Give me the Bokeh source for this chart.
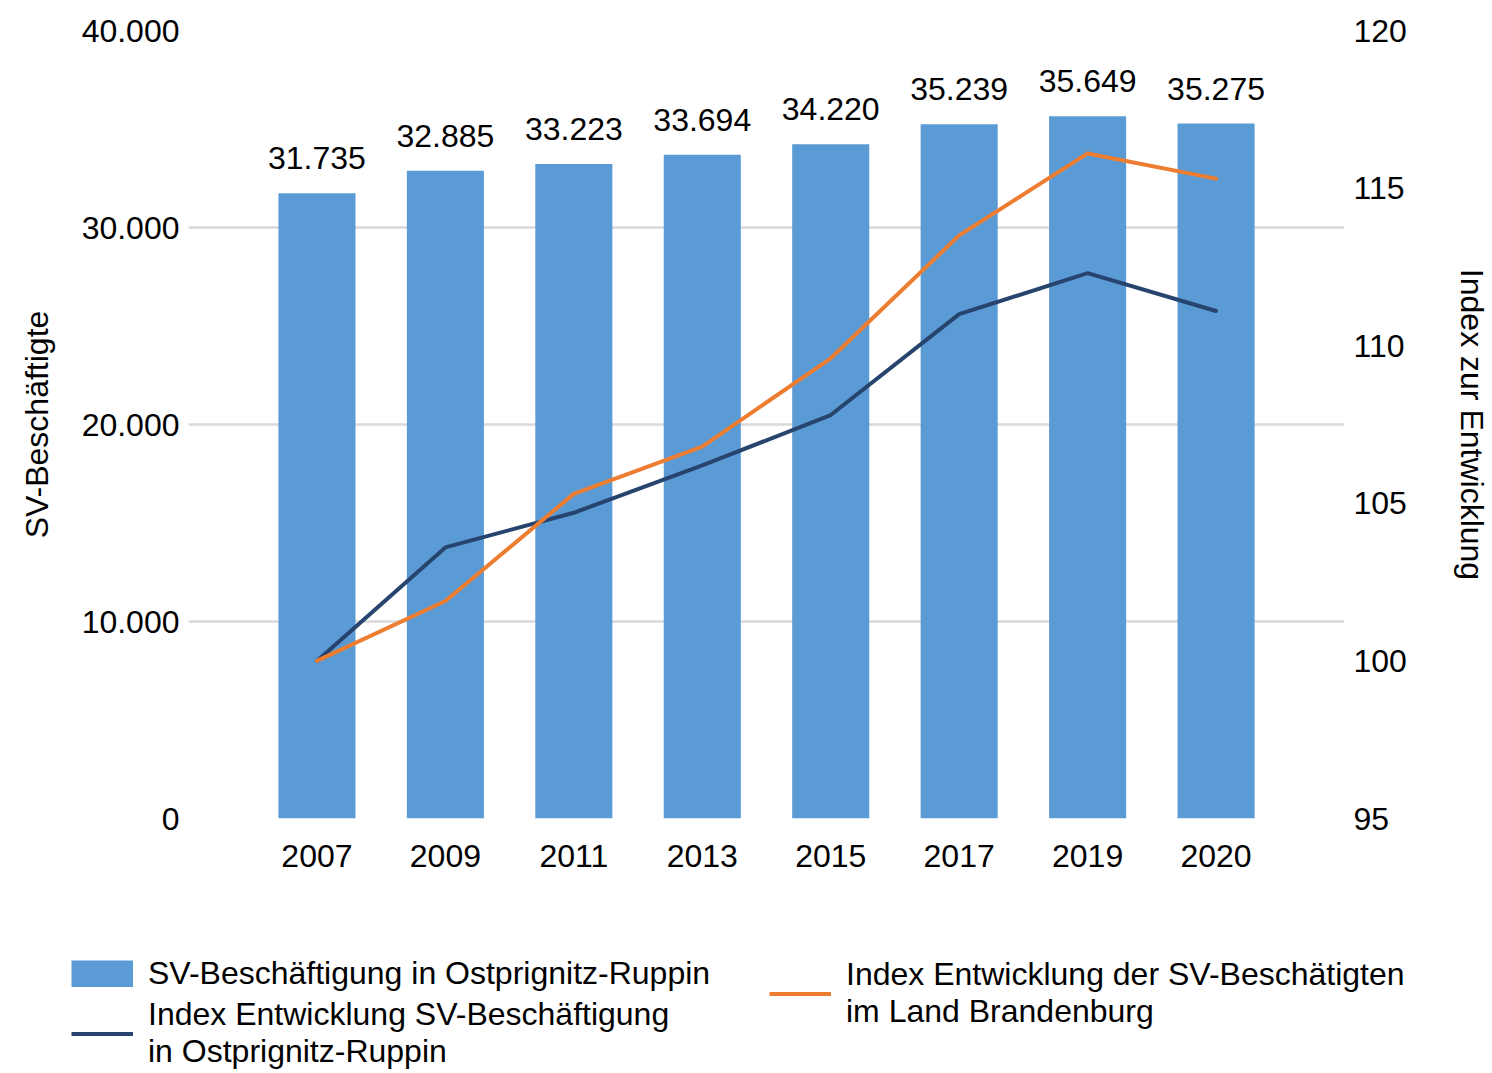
from bokeh.plotting import figure
from bokeh.models import (ColumnDataSource, FactorRange, Range1d, LinearAxis, FixedTicker,
                          Legend, LegendItem)
from bokeh.layouts import column
from bokeh.core.properties import value
from bokeh.embed import file_html
from bokeh.resources import INLINE

years = ["2007", "2009", "2011", "2013", "2015", "2017", "2019", "2020"]
beschaeftigte = [31735, 32885, 33223, 33694, 34220, 35239, 35649, 35275]
index_opr = [100.0, 103.6, 104.7, 106.2, 107.8, 111.0, 112.3, 111.1]
index_bb = [100.0, 101.9, 105.3, 106.8, 109.6, 113.5, 116.1, 115.3]
left_ticks = [0, 10000, 20000, 30000, 40000]
right_ticks = [95, 100, 105, 110, 115, 120]
legend_labels = ["SV-Beschäftigung in Ostprignitz-Ruppin",
                 "Index Entwicklung SV-Beschäftigung\nin Ostprignitz-Ruppin",
                 "Index Entwicklung der SV-Beschätigten\nim Land Brandenburg"]

FONT = "Liberation Sans"
FS = "32px"
BAR = "#5B9BD5"
DARK = "#27446E"
ORANGE = "#ED7D31"

def de(n):
    return f"{n:,}".replace(",", ".")

src = ColumnDataSource(dict(
    year=years, val=beschaeftigte, lab=[de(v) for v in beschaeftigte],
    opr=index_opr, bb=index_bb,
))

W, H_MAIN, H_LEG = 1492, 900, 173

p = figure(width=W, height=H_MAIN, output_backend="svg", toolbar_location=None,
           x_range=FactorRange(factors=years, range_padding=0.5, range_padding_units="absolute"),
           y_range=Range1d(0, 40000),
           min_border_left=188, min_border_right=147, min_border_top=30,
           min_border_bottom=H_MAIN - 818)
p.frame_align = False
p.extra_y_ranges = {"idx": Range1d(95, 120)}
p.outline_line_color = None

p.vbar(x="year", top="val", width=0.6, source=src, fill_color=BAR, line_color=None)
p.text(x="year", y="val", text="lab", source=src, text_align="center", text_baseline="alphabetic",
       y_offset=-35, text_font=value(FONT), text_font_size=FS, text_color="#000000")

p.line(x="year", y="opr", source=src, y_range_name="idx", line_color=DARK, line_width=4,
       line_cap="round", line_join="round")
p.line(x="year", y="bb", source=src, y_range_name="idx", line_color=ORANGE, line_width=4,
       line_cap="round", line_join="round")

p.xgrid.grid_line_color = None
p.ygrid.grid_line_color = "#D9D9D9"
p.ygrid.grid_line_width = 2.5
p.yaxis.ticker = FixedTicker(ticks=left_ticks)
p.yaxis.major_label_overrides = {t: de(t) for t in left_ticks}
p.yaxis.axis_label = "SV-Beschäftigte"
p.yaxis.axis_label_standoff = 24
p.yaxis.major_label_standoff = 3

ra = LinearAxis(y_range_name="idx", ticker=FixedTicker(ticks=right_ticks),
                axis_label="Index zur Entwicklung")
ra.axis_label_standoff = 44
ra.major_label_standoff = 3
p.add_layout(ra, "right")

p.xaxis.major_label_standoff = 20

for ax in [p.xaxis[0], p.yaxis[0], ra]:
    ax.axis_line_color = None
    ax.major_tick_line_color = None
    ax.minor_tick_line_color = None
    ax.major_label_text_font = FONT
    ax.major_label_text_font_size = FS
    ax.major_label_text_color = "#000000"
    ax.axis_label_text_font = FONT
    ax.axis_label_text_font_size = FS
    ax.axis_label_text_font_style = "normal"
    ax.axis_label_text_color = "#000000"

# legend panel
q = figure(width=W, height=H_LEG, output_backend="svg", toolbar_location=None,
           x_range=Range1d(0, 1), y_range=Range1d(0, 1),
           x_axis_location=None, y_axis_location=None,
           min_border=0, min_border_left=0, min_border_right=0, min_border_top=0, min_border_bottom=0)
q.frame_align = False
q.outline_line_color = None
q.xgrid.grid_line_color = None
q.ygrid.grid_line_color = None
nan = float("nan")
dummy = ColumnDataSource(dict(x=[nan], y=[nan]))
r_bar = q.line(x="x", y="y", source=dummy, line_color=BAR, line_width=27, line_cap="butt")
r_opr = q.line(x="x", y="y", source=dummy, line_color=DARK, line_width=4)
r_bb = q.line(x="x", y="y", source=dummy, line_color=ORANGE, line_width=4)

def mk_legend(items, loc):
    return Legend(items=items, location=loc, orientation="vertical",
                  glyph_width=62, glyph_height=27, label_standoff=15,
                  label_text_font=FONT, label_text_font_size=FS, label_text_color="#000000",
                  label_text_line_height=1.15,
                  padding=0, margin=0, spacing=4, border_line_color=None,
                  background_fill_alpha=0)

leg1 = mk_legend([
    LegendItem(label=legend_labels[0], renderers=[r_bar]),
    LegendItem(label=legend_labels[1], renderers=[r_opr]),
], (71, 3))
leg2 = mk_legend([
    LegendItem(label=legend_labels[2], renderers=[r_bb]),
], (769, 43))
q.add_layout(leg1, "center")
q.add_layout(leg2, "center")

layout = column(p, q, spacing=0)
open("out.html", "w").write(file_html(layout, INLINE))
